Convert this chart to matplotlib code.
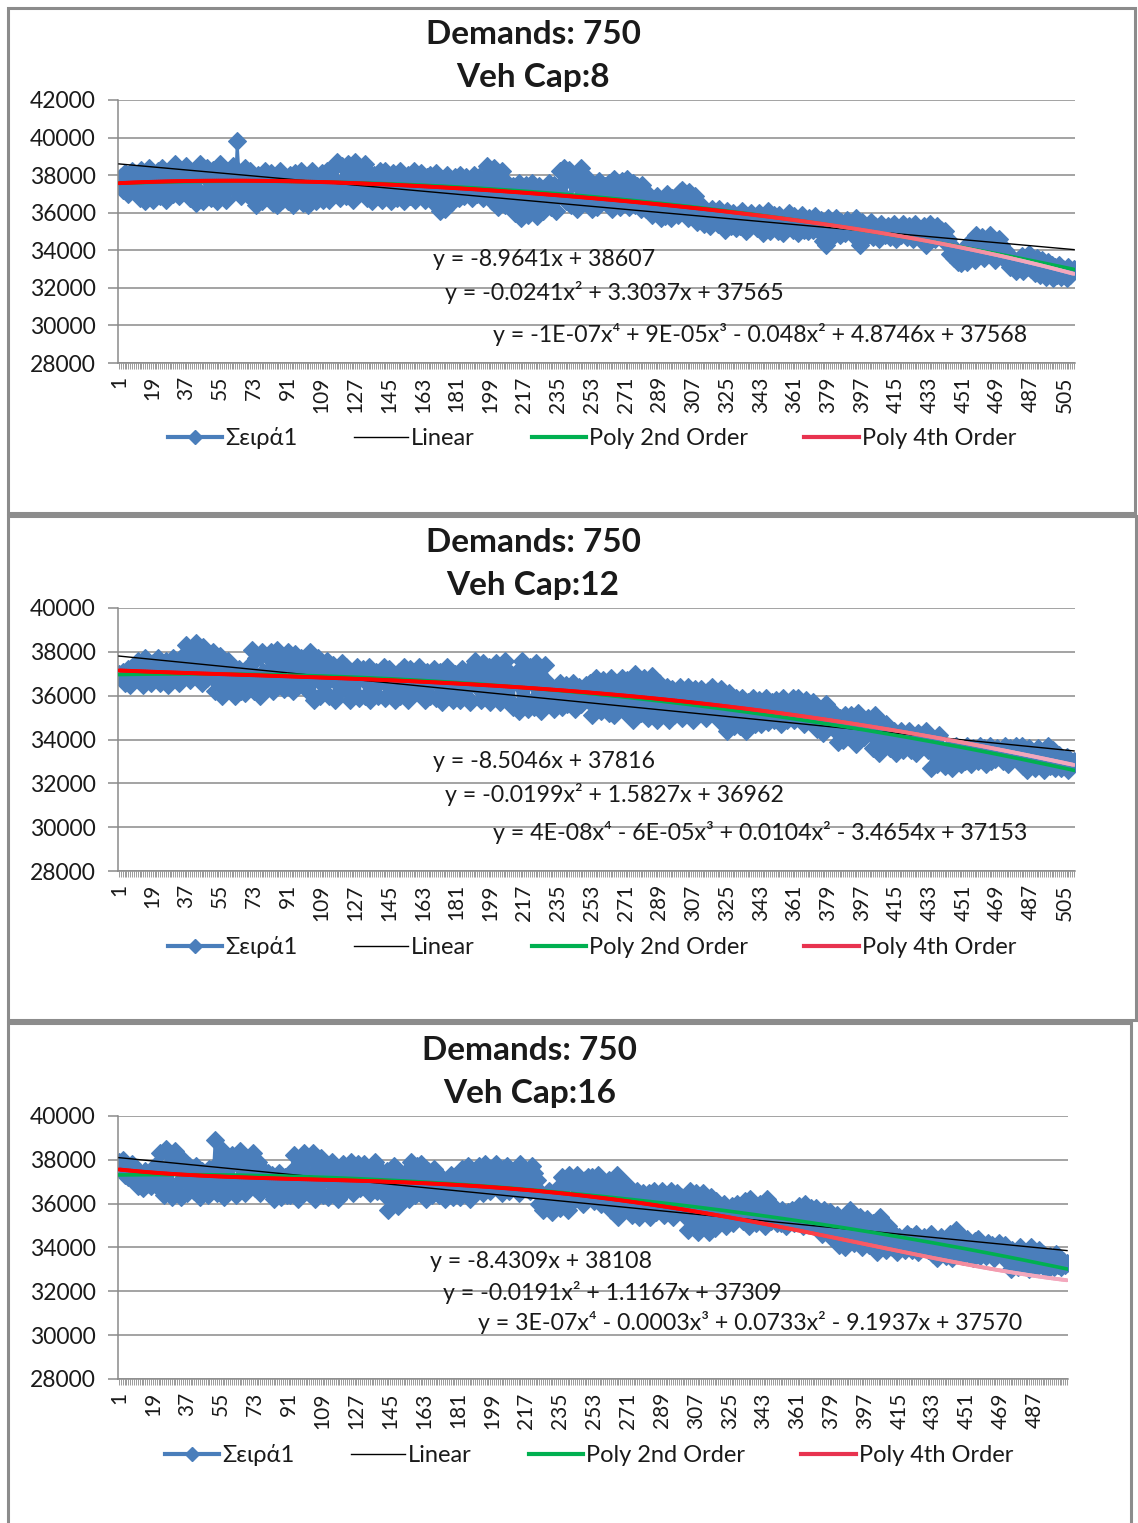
import numpy as np
import matplotlib
matplotlib.use('Agg')
import matplotlib.pyplot as plt
from matplotlib.lines import Line2D
from matplotlib.patches import Rectangle
from matplotlib.collections import LineCollection
from matplotlib.colors import to_rgb

plt.rcParams['font.family'] = ['Lato', 'Noto Sans', 'DejaVu Sans']

# total route cost per run, in hundreds
cap8_cost = [
    376, 379, 372, 381, 375, 370, 378, 382, 374, 377,
    380, 368, 383, 374, 366, 378, 384, 371, 367, 379,
    375, 382, 369, 384, 377, 367, 380, 373, 383, 370,
    386, 374, 369, 383, 378, 371, 385, 376, 368, 381,
    373, 365, 380, 386, 370, 366, 379, 384, 372, 368,
    383, 375, 366, 380, 386, 371, 377, 367, 382, 374,
    378, 385, 372, 398, 381, 369, 376, 384, 370, 379,
    382, 368, 375, 364, 380, 371, 366, 378, 382, 369,
    374, 381, 365, 377, 364, 372, 382, 367, 379, 370,
    366, 380, 373, 364, 381, 369, 376, 382, 365, 371,
    379, 364, 372, 382, 368, 366, 378, 374, 381, 367,
    370, 382, 367, 376, 384, 371, 387, 375, 368, 385,
    378, 369, 386, 374, 382, 367, 387, 380, 371, 384,
    375, 386, 368, 381, 372, 366, 380, 377, 369, 382,
    367, 376, 382, 370, 378, 366, 381, 373, 368, 379,
    382, 371, 366, 377, 380, 369, 374, 382, 367, 376,
    370, 381, 375, 367, 379, 372, 380, 366, 377, 381,
    368, 361, 378, 372, 362, 380, 370, 365, 376, 379,
    373, 368, 380, 375, 369, 379, 371, 377, 368, 380,
    376, 370, 379, 372, 368, 377, 385, 374, 381, 366,
    384, 370, 363, 378, 382, 368, 364, 376, 372, 366,
    374, 360, 368, 376, 357, 371, 365, 375, 359, 369,
    376, 362, 370, 358, 374, 366, 361, 373, 368, 376,
    363, 371, 375, 361, 369, 382, 370, 384, 366, 378,
    383, 364, 376, 380, 362, 374, 384, 368, 372, 365,
    378, 367, 362, 375, 370, 363, 377, 372, 366, 374,
    365, 376, 370, 362, 378, 368, 373, 363, 377, 369,
    372, 378, 363, 367, 376, 364, 374, 370, 362, 375,
    368, 362, 370, 364, 359, 367, 361, 369, 363, 357,
    365, 358, 370, 362, 357, 368, 360, 366, 359, 371,
    372, 362, 367, 357, 371, 364, 359, 369, 355, 362,
    358, 363, 354, 361, 356, 353, 362, 357, 360, 354,
    362, 355, 359, 351, 361, 357, 353, 360, 356, 352,
    359, 353, 361, 355, 350, 358, 352, 360, 354, 357,
    352, 360, 355, 349, 358, 353, 361, 350, 356, 359,
    355, 350, 359, 353, 349, 357, 352, 360, 356, 351,
    358, 353, 349, 356, 359, 351, 355, 350, 357, 353,
    351, 358, 354, 350, 356, 345, 352, 343, 357, 349,
    347, 354, 357, 350, 348, 355, 352, 349, 356, 351,
    354, 348, 352, 357, 349, 343, 355, 346, 351, 353,
    350, 355, 347, 353, 349, 346, 354, 351, 348, 352,
    353, 347, 351, 354, 346, 350, 352, 348, 354, 349,
    347, 353, 350, 346, 354, 349, 352, 347, 351, 353,
    343, 350, 354, 348, 352, 346, 353, 349, 351, 347,
    350, 344, 346, 338, 342, 336, 340, 334, 338, 333,
    336, 341, 334, 344, 339, 346, 335, 348, 337, 343,
    347, 336, 345, 340, 348, 338, 344, 335, 342, 346,
    343, 337, 340, 334, 338, 331, 336, 333, 329, 335,
    332, 337, 329, 335, 331, 338, 330, 334, 328, 336,
    333, 327, 335, 330, 326, 334, 328, 332, 325, 331,
    327, 332, 326, 330, 328, 325, 331, 327, 329, 330,
]

cap12_cost = [
    370, 368, 371, 366, 369, 372, 365, 370, 367, 373,
    376, 368, 372, 365, 377, 370, 374, 366, 375, 369,
    371, 377, 366, 373, 368, 376, 365, 374, 370, 377,
    368, 374, 366, 377, 371, 379, 383, 372, 367, 380,
    377, 384, 370, 381, 366, 382, 374, 368, 379, 372,
    380, 362, 374, 366, 378, 360, 371, 365, 376, 369,
    363, 371, 360, 368, 372, 362, 367, 361, 370, 366,
    374, 381, 362, 377, 368, 360, 380, 371, 364, 378,
    369, 380, 362, 375, 381, 366, 372, 378, 363, 376,
    380, 367, 374, 362, 379, 370, 365, 377, 372, 368,
    375, 362, 380, 368, 358, 373, 377, 360, 369, 365,
    371, 376, 360, 368, 374, 358, 366, 372, 362, 375,
    364, 373, 368, 358, 371, 362, 367, 373, 359, 369,
    372, 360, 366, 373, 358, 369, 364, 371, 360, 367,
    368, 373, 359, 365, 372, 361, 370, 358, 366, 371,
    360, 369, 373, 363, 358, 372, 366, 361, 370, 364,
    373, 362, 367, 358, 371, 365, 360, 369, 372, 359,
    366, 371, 357, 368, 363, 373, 360, 367, 358, 370,
    362, 369, 358, 372, 365, 360, 370, 357, 366, 374,
    376, 364, 370, 358, 375, 367, 361, 373, 357, 369,
    363, 375, 368, 357, 372, 360, 376, 366, 358, 370,
    355, 367, 371, 353, 364, 376, 358, 369, 354, 373,
    366, 355, 375, 360, 370, 353, 368, 374, 357, 362,
    359, 364, 354, 362, 357, 366, 355, 361, 365, 356,
    363, 357, 366, 354, 360, 364, 356, 362, 358, 365,
    358, 366, 351, 362, 368, 355, 360, 353, 367, 357,
    364, 352, 368, 358, 351, 366, 356, 362, 368, 353,
    360, 367, 351, 363, 349, 370, 356, 365, 352, 362,
    368, 357, 350, 363, 369, 354, 361, 349, 366, 358,
    362, 352, 364, 349, 358, 363, 351, 360, 355, 364,
    350, 361, 357, 364, 352, 359, 349, 363, 354, 360,
    363, 353, 358, 350, 362, 356, 364, 351, 359, 355,
    352, 363, 347, 358, 344, 361, 350, 355, 346, 359,
    355, 346, 359, 350, 344, 357, 348, 353, 359, 347,
    352, 358, 347, 355, 350, 359, 348, 354, 357, 349,
    358, 350, 355, 347, 359, 352, 349, 356, 353, 359,
    349, 356, 359, 351, 354, 347, 358, 350, 355, 352,
    357, 350, 345, 354, 352, 343, 349, 356, 347, 351,
    348, 352, 344, 339, 350, 345, 340, 351, 343, 347,
    351, 340, 347, 338, 352, 343, 349, 341, 346, 350,
    344, 349, 336, 351, 340, 334, 348, 342, 337, 347,
    343, 336, 340, 344, 334, 341, 338, 344, 335, 339,
    337, 344, 335, 341, 339, 334, 343, 336, 342, 338,
    344, 335, 340, 327, 338, 333, 329, 342, 336, 331,
    328, 335, 331, 336, 327, 333, 337, 330, 334, 329,
    334, 330, 337, 332, 329, 336, 331, 335, 330, 337,
    332, 336, 329, 334, 337, 330, 335, 331, 336, 333,
    335, 330, 337, 333, 329, 336, 331, 334, 337, 330,
    331, 337, 328, 334, 326, 336, 330, 333, 327, 335,
    336, 329, 334, 326, 332, 337, 328, 331, 335, 327,
    330, 333, 327, 331, 328, 332, 326, 330, 329, 330,
]

cap16_cost = [
    379, 376, 380, 373, 377, 372, 375, 378, 371, 374,
    368, 374, 370, 367, 375, 369, 372, 368, 374, 370,
    378, 367, 383, 372, 364, 385, 370, 376, 363, 381,
    384, 369, 376, 363, 380, 371, 365, 377, 370, 374,
    366, 377, 370, 363, 375, 368, 372, 364, 376, 369,
    373, 389, 365, 379, 369, 384, 363, 375, 380, 367,
    382, 370, 364, 378, 384, 368, 373, 365, 380, 371,
    376, 383, 367, 372, 379, 365, 370, 375, 368, 374,
    365, 373, 362, 370, 366, 374, 363, 369, 372, 364,
    370, 364, 375, 382, 367, 362, 379, 371, 383, 366,
    380, 365, 372, 383, 362, 376, 369, 381, 364, 373,
    377, 363, 370, 379, 366, 373, 362, 375, 368, 378,
    366, 376, 371, 379, 365, 374, 369, 378, 367, 372,
    378, 368, 373, 365, 377, 370, 379, 366, 372, 375,
    370, 364, 375, 357, 368, 361, 377, 372, 359, 366,
    363, 371, 368, 375, 362, 379, 369, 364, 377, 372,
    378, 366, 373, 362, 375, 369, 364, 376, 371, 367,
    364, 372, 367, 362, 370, 365, 373, 363, 369, 366,
    371, 363, 376, 368, 365, 377, 362, 373, 369, 375,
    367, 377, 371, 365, 378, 369, 374, 366, 376, 372,
    378, 368, 373, 365, 376, 370, 377, 366, 374, 371,
    369, 376, 365, 378, 372, 367, 375, 370, 366, 377,
    374, 366, 371, 360, 365, 357, 363, 359, 366, 361,
    356, 364, 360, 367, 358, 372, 362, 369, 357, 373,
    370, 361, 368, 373, 363, 366, 360, 371, 365, 372,
    364, 372, 361, 369, 373, 366, 360, 370, 363, 368,
    371, 357, 366, 360, 373, 354, 368, 363, 358, 369,
    362, 366, 355, 364, 358, 366, 354, 361, 365, 357,
    359, 365, 354, 362, 366, 356, 363, 358, 366, 355,
    364, 356, 361, 366, 354, 360, 365, 357, 363, 359,
    355, 363, 348, 366, 358, 352, 365, 347, 360, 354,
    365, 351, 359, 347, 363, 355, 349, 361, 352, 358,
    353, 360, 350, 357, 352, 359, 351, 356, 360, 354,
    358, 352, 361, 355, 350, 362, 354, 359, 351, 357,
    360, 353, 357, 350, 362, 355, 352, 359, 356, 351,
    355, 351, 357, 352, 350, 356, 353, 357, 351, 354,
    352, 359, 354, 350, 360, 356, 351, 358, 353, 357,
    358, 349, 355, 346, 357, 351, 348, 356, 345, 353,
    350, 355, 341, 353, 347, 340, 352, 344, 357, 348,
    342, 352, 346, 354, 340, 349, 344, 353, 341, 347,
    351, 343, 338, 348, 354, 341, 346, 339, 350, 345,
    340, 346, 342, 338, 345, 341, 344, 339, 346, 343,
    345, 339, 343, 346, 338, 344, 340, 345, 341, 339,
    342, 346, 337, 344, 335, 341, 345, 338, 343, 336,
    339, 346, 335, 343, 348, 337, 341, 345, 336, 342,
    344, 337, 341, 335, 343, 339, 344, 336, 340, 338,
    336, 342, 338, 341, 335, 340, 337, 342, 339, 336,
    341, 334, 338, 330, 339, 333, 336, 331, 340, 335,
    332, 338, 335, 330, 340, 333, 337, 331, 339, 334,
    337, 331, 335, 330, 336, 333, 331, 337, 332, 334,
    331, 334, 332, 333,
]

vehicle_caps = [8, 12, 16]
y_tops = [42000, 40000, 40000]

# trendline coefficients (highest power first) and their printed equations
linear_fits = [(-8.9641, 38607), (-8.5046, 37816), (-8.4309, 38108)]
quad_fits = [(-0.0241, 3.3037, 37565), (-0.0199, 1.5827, 36962), (-0.0191, 1.1167, 37309)]
quartic_fits = [(-1e-07, 9e-05, -0.048, 4.8746, 37568),
                (4e-08, -6e-05, 0.0104, -3.4654, 37153),
                (3e-07, -0.0003, 0.0733, -9.1937, 37570)]
equation_labels = [
    ["y = -8.9641x + 38607", "y = -0.0241x\u00b2 + 3.3037x + 37565",
     "y = -1E-07x\u2074 + 9E-05x\u00b3 - 0.048x\u00b2 + 4.8746x + 37568"],
    ["y = -8.5046x + 37816", "y = -0.0199x\u00b2 + 1.5827x + 36962",
     "y = 4E-08x\u2074 - 6E-05x\u00b3 + 0.0104x\u00b2 - 3.4654x + 37153"],
    ["y = -8.4309x + 38108", "y = -0.0191x\u00b2 + 1.1167x + 37309",
     "y = 3E-07x\u2074 - 0.0003x\u00b3 + 0.0733x\u00b2 - 9.1937x + 37570"],
]
legend_labels = ["\u03a3\u03b5\u03b9\u03c1\u03ac1", "Linear", "Poly 2nd Order", "Poly 4th Order"]

BLUE = '#4a7ebb'
GREEN = '#00b050'
RED = '#ff0000'
PINK = '#f3a8bd'
GRID = '#8a8a8a'
TEXT = '#1a1a1a'

W, H = 1138, 1523
fig = plt.figure(figsize=(W / 100, H / 100), dpi=100)


def fx(px):
    return px / W


def fy(py):
    return 1 - py / H


# pixel layout of each chart block: frame, plot area, title, equations, legend
layouts = [
    dict(box=(8, 8, 1135, 513), plot=(118, 100, 1075, 363), title=(533, 35, 77),
         eq=[(433, 260), (445, 293), (493, 334)], legend=(168, 438)),
    dict(box=(8, 516, 1136, 1020), plot=(118, 608, 1075, 871), title=(533, 543, 585),
         eq=[(433, 761), (445, 795), (493, 833)], legend=(168, 947)),
    dict(box=(8, 1023, 1131, 1530), plot=(118, 1116, 1068, 1379), title=(530, 1051, 1093),
         eq=[(430, 1261), (443, 1292), (478, 1323)], legend=(165, 1455)),
]


def draw_panel(cost, ytop, cap, lin, quad, quart, eqs, lay):
    x0, y0, x1, y1 = lay['box']
    fig.add_artist(Rectangle((fx(x0), fy(y1)), fx(x1) - fx(x0), fy(y0) - fy(y1),
                             transform=fig.transFigure, fill=False,
                             edgecolor='#8c8c8c', linewidth=2.2))

    l, t, r, b = lay['plot']
    ax = fig.add_axes([fx(l), fy(b), fx(r) - fx(l), fy(t) - fy(b)])

    n = len(cost)
    x = np.arange(1, n + 1)
    y = np.array(cost) * 100

    ax.plot(x, y, color=BLUE, lw=2, marker='D', ms=9.5, mfc=BLUE, mec=BLUE,
            mew=0.8, zorder=2)
    ax.plot(x, np.polyval(lin, x), color='black', lw=1.0, zorder=3)
    ax.plot(x, np.polyval(quad, x), color=GREEN, lw=2.6, zorder=4)

    # quartic trend, fading from red to pink toward the right end
    yq = np.polyval(quart, x)
    pts = np.column_stack([x, yq])
    segs = np.stack([pts[:-1], pts[1:]], axis=1)
    frac = np.clip((x[:-1] / n - 0.6) / 0.35, 0, 1)[:, None]
    cols = (1 - frac) * np.array(to_rgb(RED)) + frac * np.array(to_rgb(PINK))
    ax.add_collection(LineCollection(segs, colors=cols, linewidths=2.8,
                                     capstyle='round', zorder=5))

    ax.set_xlim(0.5, n + 0.5)
    ax.set_ylim(28000, ytop)
    ax.set_yticks(np.arange(28000, ytop + 1, 2000))
    ax.yaxis.grid(True, color=GRID, lw=1.1)
    ax.set_axisbelow(True)
    for s in ('top', 'right'):
        ax.spines[s].set_visible(False)
    for s in ('left', 'bottom'):
        ax.spines[s].set_color(GRID)
        ax.spines[s].set_linewidth(1.1)

    ax.set_xticks(x[::18])
    ax.set_xticks(x, minor=True)
    ax.tick_params(axis='x', which='both', length=4.5, width=0.6, color=GRID,
                   labelsize=15, labelrotation=90, pad=5, labelcolor=TEXT)
    ax.tick_params(axis='y', length=7, width=1.1, color=GRID, labelsize=16.5,
                   pad=9, labelcolor=TEXT)

    cx, ty1, ty2 = lay['title']
    fig.text(fx(cx), fy(ty1), "Demands: 750", ha='center', va='center',
             fontsize=24, fontweight='bold', color=TEXT)
    fig.text(fx(cx), fy(ty2), f"Veh Cap:{cap}", ha='center', va='center',
             fontsize=24, fontweight='bold', color=TEXT)

    for (ex, ey), s in zip(lay['eq'], eqs):
        fig.text(fx(ex), fy(ey), s, ha='left', va='center', fontsize=16.7, color=TEXT)

    handles = [
        Line2D([], [], color=BLUE, lw=3, marker='D', ms=7, mec=BLUE),
        Line2D([], [], color='black', lw=1),
        Line2D([], [], color=GREEN, lw=3),
        Line2D([], [], color='#e8334f', lw=3),
    ]
    lx, ly = lay['legend']
    fig.legend(handles, legend_labels, loc='center left',
               bbox_to_anchor=(fx(lx), fy(ly)), bbox_transform=fig.transFigure,
               ncol=4, frameon=False, fontsize=17, handlelength=2.3,
               handletextpad=0.12, columnspacing=2.4, borderpad=0,
               borderaxespad=0, numpoints=1, labelcolor=TEXT)


series = [cap8_cost, cap12_cost, cap16_cost]
for i in range(3):
    draw_panel(series[i], y_tops[i], vehicle_caps[i], linear_fits[i], quad_fits[i],
               quartic_fits[i], equation_labels[i], layouts[i])

fig.savefig('out.png', dpi=100)
